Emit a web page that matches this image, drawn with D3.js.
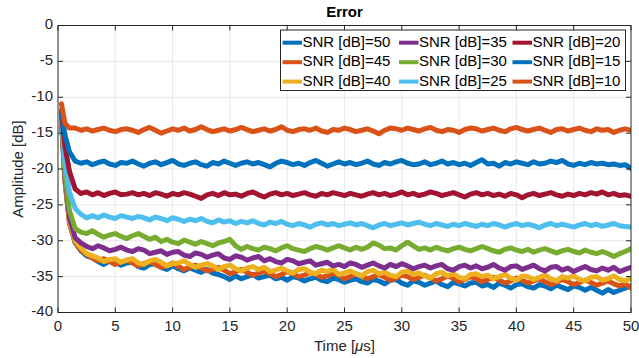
<!DOCTYPE html>
<html>
<head>
<meta charset="utf-8">
<script src="https://cdn.jsdelivr.net/npm/d3@7/dist/d3.min.js"></script>
<style>
  body { margin: 0; background: #fff; }
  svg { display: block; font-family: "Liberation Sans", Arial, Helvetica, sans-serif; }
</style>
</head>
<body>
<div id="chart"></div>
<script>
// sample times in microseconds
const time = [0.3, 0.6, 1,
  1.5, 2, 2.5, 3, 3.5, 4, 4.5, 5, 5.5, 6,
  6.5, 7, 7.5, 8, 8.5, 9, 9.5, 10, 10.5, 11,
  11.5, 12, 12.5, 13, 13.5, 14, 14.5, 15, 15.5, 16,
  16.5, 17, 17.5, 18, 18.5, 19, 19.5, 20, 20.5, 21,
  21.5, 22, 22.5, 23, 23.5, 24, 24.5, 25, 25.5, 26,
  26.5, 27, 27.5, 28, 28.5, 29, 29.5, 30, 30.5, 31,
  31.5, 32, 32.5, 33, 33.5, 34, 34.5, 35, 35.5, 36,
  36.5, 37, 37.5, 38, 38.5, 39, 39.5, 40, 40.5, 41,
  41.5, 42, 42.5, 43, 43.5, 44, 44.5, 45, 45.5, 46,
  46.5, 47, 47.5, 48, 48.5, 49, 49.5, 50];

const snr50 = [-13.0, -21.5, -27.5,
  -30.3, -31.4, -32.1, -32.4, -32.9, -33.3, -32.8, -33.0, -33.4, -33.1,
  -33.0, -33.6, -33.8, -33.3, -33.2, -33.7, -34.0, -33.5, -33.9, -34.2,
  -33.8, -34.1, -34.4, -34.0, -34.5, -34.7, -35.0, -35.4, -34.9, -35.3,
  -35.0, -34.7, -35.2, -35.0, -34.8, -35.3, -35.1, -35.5, -35.0, -35.2,
  -35.6, -35.3, -35.1, -35.5, -35.7, -35.2, -35.4, -35.8, -35.5, -35.3,
  -35.7, -35.9, -35.4, -35.6, -36.0, -35.5, -35.4, -35.9, -36.2, -35.6,
  -35.8, -36.2, -35.9, -35.6, -36.1, -36.4, -35.8, -36.0, -36.3, -35.9,
  -35.8, -36.3, -36.1, -36.5, -35.9, -36.2, -36.6, -36.1, -36.0, -36.4,
  -36.6, -36.1, -36.3, -36.7, -36.2, -36.5, -36.8, -36.3, -36.5, -36.9,
  -36.5, -36.9, -37.3, -36.8, -37.2, -36.9, -36.6, -36.3];

const snr45 = [-13.0, -21.5, -27.5,
  -30.2, -31.3, -31.9, -32.4, -32.8, -32.5, -32.9, -33.3, -33.0, -32.7,
  -33.1, -33.5, -33.2, -32.9, -33.3, -33.7, -33.5, -33.1, -33.6, -34.0,
  -33.7, -33.4, -33.8, -34.2, -34.0, -33.7, -34.1, -34.6, -34.3, -34.0,
  -34.4, -34.8, -34.5, -34.2, -34.6, -35.0, -34.7, -34.3, -34.6, -35.0,
  -34.8, -34.4, -34.7, -35.1, -34.9, -34.5, -34.8, -35.3, -35.0, -34.6,
  -34.9, -35.3, -35.0, -34.7, -35.1, -35.5, -35.2, -34.8, -35.0, -35.4,
  -35.1, -34.8, -35.2, -35.6, -35.3, -34.9, -35.2, -35.7, -35.4, -35.0,
  -35.3, -35.7, -35.4, -35.1, -35.5, -35.9, -35.6, -35.2, -35.5, -35.9,
  -35.6, -35.3, -35.7, -36.1, -35.8, -35.4, -35.7, -36.1, -35.8, -35.5,
  -35.8, -36.2, -35.9, -35.6, -36.0, -36.3, -36.0, -36.6];

const snr40 = [-13.0, -21.3, -27.2,
  -30.0, -31.0, -31.8, -32.1, -32.4, -32.9, -32.6, -32.5, -33.0, -32.7,
  -32.5, -33.1, -33.3, -32.8, -32.6, -33.0, -33.5, -33.2, -33.1, -32.8,
  -33.3, -33.7, -33.4, -33.2, -33.5, -34.0, -33.6, -33.4, -33.9, -34.2,
  -33.8, -33.6, -34.0, -33.7, -34.3, -34.1, -33.8, -34.2, -34.5, -34.0,
  -33.9, -34.4, -34.6, -34.1, -34.3, -34.0, -34.7, -34.5, -34.2, -34.6,
  -34.9, -34.3, -34.1, -34.6, -34.4, -34.8, -35.0, -34.4, -34.2, -34.7,
  -34.5, -34.9, -35.2, -34.6, -34.4, -34.9, -34.6, -35.1, -35.3, -34.7,
  -34.6, -35.0, -34.8, -35.3, -35.0, -34.7, -35.2, -35.5, -34.9, -35.0,
  -35.4, -35.1, -34.8, -35.3, -35.6, -35.0, -35.2, -34.9, -35.4, -35.6,
  -35.1, -35.0, -35.5, -35.3, -34.9, -35.4, -35.6, -35.2];

const snr35 = [-12.8, -21.0, -26.8,
  -29.6, -30.3, -30.8, -31.1, -30.7, -31.0, -31.4, -31.2, -30.9, -31.3,
  -31.5, -31.1, -31.3, -31.8, -31.6, -31.4, -31.9, -31.6, -31.5, -32.0,
  -32.2, -31.7, -31.9, -32.3, -32.0, -31.8, -32.4, -32.6, -32.1, -32.3,
  -32.7, -32.4, -32.2, -32.8, -32.5, -32.9, -33.1, -32.6, -32.8, -33.2,
  -33.0, -32.8, -33.4, -33.2, -33.0, -33.5, -33.3, -33.6, -33.1, -33.3,
  -33.7, -33.4, -33.1, -33.5, -33.8, -33.3, -33.6, -33.2, -33.5, -33.9,
  -33.6, -33.4, -33.8, -33.5, -33.3, -33.9, -34.1, -33.6, -33.4, -33.8,
  -33.5, -33.9, -33.7, -33.3, -33.8, -34.1, -33.6, -33.5, -34.0, -33.7,
  -33.4, -33.9, -34.2, -33.7, -33.6, -34.1, -33.8, -34.3, -33.9, -33.6,
  -34.0, -34.2, -33.8, -34.1, -33.7, -34.3, -34.0, -33.7];

const snr30 = [-12.8, -20.5, -25.8,
  -28.3, -28.8, -29.0, -28.6, -29.1, -29.5, -29.2, -29.0, -29.4, -29.7,
  -29.3, -29.0, -29.4, -29.8, -29.5, -30.1, -29.8, -30.2, -30.4, -29.9,
  -30.2, -30.5, -30.1, -30.4, -30.7, -30.3, -30.1, -29.8, -30.7, -31.2,
  -30.8, -31.1, -31.3, -30.9, -31.1, -31.4, -31.0, -30.7, -31.1, -31.3,
  -31.5, -31.1, -30.8, -31.0, -31.3, -31.0, -30.7, -31.0, -31.3, -30.9,
  -31.2, -30.9, -30.3, -30.6, -31.1, -31.0, -31.3, -30.7, -30.2, -30.7,
  -31.2, -31.0, -31.3, -30.9, -31.2, -31.4, -31.1, -30.9, -31.2, -31.4,
  -31.1, -30.8, -31.1, -31.4, -31.6, -31.2, -31.0, -31.3, -31.5, -31.2,
  -31.6, -31.3, -31.1, -31.4, -31.7, -31.4, -31.2, -31.5, -31.7, -31.3,
  -31.6, -31.8, -31.5, -31.8, -32.2, -31.8, -31.5, -31.1];

const snr25 = [-12.5, -19.0, -23.2,
  -25.5, -26.3, -26.8, -26.5, -26.8, -26.4, -26.7, -26.9, -26.5, -26.7,
  -26.9, -26.6, -26.8, -27.1, -26.7, -26.9, -27.2, -26.8, -27.0, -27.3,
  -27.0, -27.2, -26.9, -27.3, -27.5, -27.1, -27.4, -27.2, -27.6, -27.3,
  -27.5, -27.2, -27.6, -27.8, -27.4, -27.6, -27.3, -27.7, -27.9, -27.6,
  -27.8, -28.1, -27.7, -27.5, -27.8, -27.6, -27.9, -27.7, -27.5, -27.8,
  -27.6, -27.9, -28.2, -27.8, -27.6, -27.9, -27.7, -27.5, -27.8, -27.6,
  -27.4, -27.7, -27.9, -27.6, -27.8, -28.0, -27.7, -27.9, -27.6, -27.8,
  -28.0, -27.7, -27.9, -27.6, -27.8, -28.1, -27.8, -27.6, -27.9, -27.7,
  -27.9, -28.2, -27.8, -27.6, -27.9, -27.7, -27.9, -28.1, -27.8, -27.6,
  -27.9, -27.7, -28.0, -27.8, -27.6, -27.9, -28.0, -28.1];

const snr20 = [-12.2, -16.8, -20.3,
  -22.8, -23.4, -23.2, -23.6, -23.3, -23.7, -23.4, -23.2, -23.6, -23.5,
  -23.3, -23.6, -23.4, -23.7, -23.3, -23.5, -23.8, -23.4, -23.6, -23.3,
  -23.5, -23.8, -24.1, -23.6, -23.4, -23.7, -23.3, -23.6, -23.5, -23.8,
  -23.4, -23.2, -23.6, -23.9, -23.5, -23.3, -23.6, -23.4, -23.7, -23.5,
  -23.3, -23.6, -23.8, -23.4, -23.6, -23.3, -23.5, -23.7, -23.4, -23.6,
  -23.8, -23.5, -23.3, -23.6, -23.4, -23.7, -23.5, -23.2, -23.6, -23.4,
  -23.7, -23.5, -23.2, -23.4, -23.7, -23.5, -23.3, -23.6, -23.9, -23.5,
  -23.3, -23.6, -23.4, -23.7, -23.5, -23.8, -23.4, -23.6, -24.0, -23.6,
  -23.4, -23.7, -23.5, -23.3, -23.6, -23.8, -23.5, -23.7, -23.4, -23.6,
  -23.3, -23.5, -23.2, -23.6, -23.4, -23.7, -23.6, -23.8];

const snr15 = [-11.8, -15.2, -17.6,
  -18.9, -19.2, -19.0, -19.4, -19.1, -18.9, -19.3, -19.5, -19.1, -19.2,
  -18.9, -19.3, -19.6, -19.2, -19.0, -19.4, -19.1, -18.8, -19.3, -19.5,
  -19.2, -19.0, -19.4, -19.6, -19.1, -19.3, -18.9, -19.2, -19.5, -19.2,
  -19.0, -19.3, -19.1, -19.4, -19.7, -19.2, -18.9, -19.1, -19.4, -19.2,
  -19.5, -19.1, -18.8, -19.2, -19.6, -19.3, -19.0, -19.3, -19.1, -19.4,
  -19.2, -18.9, -19.3, -19.5, -19.1, -19.3, -19.0, -18.8, -19.2, -19.4,
  -19.3, -19.0, -19.4, -19.2, -18.9, -19.3, -19.1, -19.4, -19.2, -19.5,
  -19.1, -18.7, -19.3, -19.2, -19.6, -19.1, -19.3, -19.0, -19.2, -19.4,
  -19.0, -19.3, -19.2, -18.9, -19.1, -18.8, -19.3, -19.5, -19.2, -19.4,
  -19.1, -19.3, -19.2, -19.4, -19.3, -19.5, -19.4, -19.9];

const snr10 = [-10.9, -13.6, -14.3,
  -14.3, -14.6, -14.4, -14.7, -14.5, -14.3, -14.6, -14.8, -14.5, -14.4,
  -14.6, -14.9, -14.5, -14.2, -14.6, -15.0, -14.7, -14.4, -14.6, -14.3,
  -14.7, -14.5, -14.1, -14.5, -14.8, -14.6, -14.4, -14.7, -14.5, -14.2,
  -14.5, -14.8, -14.6, -14.4, -14.7, -14.5, -14.1, -14.6, -14.8, -14.5,
  -14.4, -14.6, -14.3, -14.7, -14.9, -14.5, -14.6, -14.3, -14.5, -14.8,
  -14.6, -14.4, -14.7, -15.1, -14.6, -14.3, -14.4, -14.6, -14.3, -14.5,
  -14.7, -14.4, -14.2, -14.6, -14.8, -14.5, -14.6, -14.9, -14.5, -14.3,
  -14.4, -14.7, -14.5, -14.3, -14.6, -14.8, -14.4, -14.2, -14.5, -14.7,
  -14.5, -14.3, -14.6, -14.9, -14.5, -14.4, -14.7, -14.5, -14.3, -14.6,
  -14.8, -14.4, -14.6, -14.5, -14.9, -14.6, -14.4, -14.6];

// plot order = legend order (column-major, 3 rows)
const snrLevels = [50, 45, 40, 35, 30, 25, 20, 15, 10];
const snrSeries = [snr50, snr45, snr40, snr35, snr30, snr25, snr20, snr15, snr10];
const snrColors = [`#0072BD`, `#D95319`, `#EDB120`, `#7E2F8E`, `#77AC30`,
  `#4DBEEE`, `#A2142F`, `#0072BD`, `#D95319`];

const xTicks = [0, 5, 10, 15, 20, 25, 30, 35, 40, 45, 50];
const yTicks = [0, -5, -10, -15, -20, -25, -30, -35, -40];

class ErrorChart {
  constructor(el) {
    this.el = el;
    this.width = 639;
    this.height = 358;
    this.margin = { top: 25.5, right: 8, bottom: 45.5, left: 58 };
    this.axisColor = `#262626`;
  }

  render() {
    this.svg = d3.select(this.el).append(`svg`)
      .attr(`width`, this.width)
      .attr(`height`, this.height);

    this.x = d3.scaleLinear()
      .domain([0, 50])
      .range([this.margin.left, this.width - this.margin.right]);
    this.y = d3.scaleLinear()
      .domain([-40, 0])
      .range([this.height - this.margin.bottom, this.margin.top]);

    this.drawGrid();
    this.drawLines();
    this.drawAxes();
    this.drawLabels();
    this.drawLegend();
  }

  drawGrid() {
    const [x0, x1] = this.x.range();
    const [y0, y1] = this.y.range();
    const g = this.svg.append(`g`).attr(`class`, `grid`);

    g.selectAll(`.gx`).data(xTicks.slice(1, -1)).enter().append(`line`)
      .attr(`x1`, (d) => this.x(d)).attr(`x2`, (d) => this.x(d))
      .attr(`y1`, y0).attr(`y2`, y1)
      .attr(`stroke`, `#e3e3e3`).attr(`stroke-width`, 0.8);

    g.selectAll(`.gy`).data(yTicks.slice(1, -1)).enter().append(`line`)
      .attr(`y1`, (d) => this.y(d)).attr(`y2`, (d) => this.y(d))
      .attr(`x1`, x0).attr(`x2`, x1)
      .attr(`stroke`, `#e3e3e3`).attr(`stroke-width`, 0.8);
  }

  drawLines() {
    const [x0, x1] = this.x.range();
    const [y0, y1] = this.y.range();

    this.svg.append(`clipPath`).attr(`id`, `plot-clip`)
      .append(`rect`)
      .attr(`x`, x0).attr(`y`, y1)
      .attr(`width`, x1 - x0).attr(`height`, y0 - y1);

    const line = d3.line()
      .x((d, i) => this.x(time[i]))
      .y((d) => this.y(d));

    this.svg.append(`g`)
      .attr(`clip-path`, `url(#plot-clip)`)
      .selectAll(`path`)
      .data(snrSeries)
      .enter().append(`path`)
      .attr(`d`, line)
      .attr(`fill`, `none`)
      .attr(`stroke`, (d, i) => snrColors[i])
      .attr(`stroke-width`, 5)
      .attr(`stroke-linejoin`, `round`)
      .attr(`stroke-linecap`, `round`);
  }

  drawAxes() {
    const [x0, x1] = this.x.range();
    const [y0, y1] = this.y.range();
    const tick = 5;
    const g = this.svg.append(`g`).attr(`class`, `axes`);

    g.append(`rect`)
      .attr(`x`, x0).attr(`y`, y1)
      .attr(`width`, x1 - x0).attr(`height`, y0 - y1)
      .attr(`fill`, `none`)
      .attr(`stroke`, this.axisColor)
      .attr(`stroke-width`, 1);

    // ticks point inwards on all four sides
    xTicks.forEach((t) => {
      const px = this.x(t);
      g.append(`line`).attr(`x1`, px).attr(`x2`, px).attr(`y1`, y0).attr(`y2`, y0 - tick)
        .attr(`stroke`, this.axisColor);
      g.append(`line`).attr(`x1`, px).attr(`x2`, px).attr(`y1`, y1).attr(`y2`, y1 + tick)
        .attr(`stroke`, this.axisColor);
    });
    yTicks.forEach((t) => {
      const py = this.y(t);
      g.append(`line`).attr(`x1`, x0).attr(`x2`, x0 + tick).attr(`y1`, py).attr(`y2`, py)
        .attr(`stroke`, this.axisColor);
      g.append(`line`).attr(`x1`, x1).attr(`x2`, x1 - tick).attr(`y1`, py).attr(`y2`, py)
        .attr(`stroke`, this.axisColor);
    });

    g.selectAll(`.xlab`).data(xTicks).enter().append(`text`)
      .attr(`x`, (d) => this.x(d))
      .attr(`y`, y0 + 15)
      .attr(`text-anchor`, `middle`)
      .attr(`dominant-baseline`, `middle`)
      .attr(`font-size`, 15)
      .attr(`fill`, this.axisColor)
      .text((d) => d);

    g.selectAll(`.ylab`).data(yTicks).enter().append(`text`)
      .attr(`x`, x0 - 5)
      .attr(`y`, (d) => this.y(d))
      .attr(`text-anchor`, `end`)
      .attr(`dominant-baseline`, `middle`)
      .attr(`font-size`, 15)
      .attr(`fill`, this.axisColor)
      .text((d) => d);
  }

  drawLabels() {
    const [x0, x1] = this.x.range();
    const [y0, y1] = this.y.range();
    const cx = (x0 + x1) / 2;

    this.svg.append(`text`)
      .attr(`x`, cx).attr(`y`, 13)
      .attr(`text-anchor`, `middle`)
      .attr(`dominant-baseline`, `middle`)
      .attr(`font-size`, 15)
      .attr(`font-weight`, `bold`)
      .attr(`fill`, `#000`)
      .text(`Error`);

    const xl = this.svg.append(`text`)
      .attr(`x`, cx).attr(`y`, 347)
      .attr(`text-anchor`, `middle`)
      .attr(`dominant-baseline`, `middle`)
      .attr(`font-size`, 15)
      .attr(`fill`, this.axisColor);
    xl.append(`tspan`).text(`Time [`);
    xl.append(`tspan`).attr(`font-style`, `italic`).text(`\u03bc`);
    xl.append(`tspan`).text(`s]`);

    this.svg.append(`text`)
      .attr(`transform`, `translate(19,${(y0 + y1) / 2}) rotate(-90)`)
      .attr(`text-anchor`, `middle`)
      .attr(`dominant-baseline`, `middle`)
      .attr(`font-size`, 15)
      .attr(`fill`, this.axisColor)
      .text(`Amplitude [dB]`);
  }

  drawLegend() {
    const box = { x: 280.5, y: 30, w: 345, h: 60.5 };
    const colX = [282.5, 399, 512.5];
    const rowY = [42.7, 62.2, 81.6];
    const lineLen = 19.5;

    const g = this.svg.append(`g`).attr(`class`, `legend`);

    g.append(`rect`)
      .attr(`x`, box.x).attr(`y`, box.y)
      .attr(`width`, box.w).attr(`height`, box.h)
      .attr(`fill`, `#fff`)
      .attr(`stroke`, this.axisColor)
      .attr(`stroke-width`, 1);

    const items = g.selectAll(`.item`)
      .data(snrLevels)
      .enter().append(`g`)
      .attr(`transform`, (d, i) => `translate(${colX[Math.floor(i / 3)]},${rowY[i % 3]})`);

    items.append(`line`)
      .attr(`x1`, 0).attr(`x2`, lineLen)
      .attr(`y1`, 0).attr(`y2`, 0)
      .attr(`stroke`, (d, i) => snrColors[i])
      .attr(`stroke-width`, 4);

    items.append(`text`)
      .attr(`x`, lineLen + 0.5)
      .attr(`y`, 0)
      .attr(`dominant-baseline`, `middle`)
      .attr(`font-size`, 15)
      .attr(`fill`, `#000`)
      .text((d) => `SNR [dB]=${d}`);
  }
}

new ErrorChart(`#chart`).render();
</script>
</body>
</html>
